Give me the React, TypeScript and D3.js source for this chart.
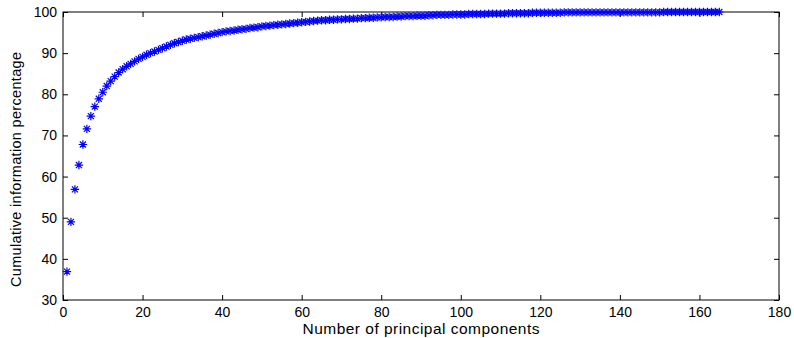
import React, { useEffect, useRef } from "react";
import * as d3 from "d3";

// cumulative information percentage for component 1..165
const cumulative: number[] = [
    36.9, 49.0, 56.9, 62.8, 67.8, 71.6, 74.7, 77.0, 78.9, 80.5,
    82.0, 83.2, 84.3, 85.3, 86.1, 86.8, 87.4, 88.0, 88.6, 89.1,
    89.6, 90.0, 90.4, 90.8, 91.2, 91.6, 92.0, 92.4, 92.7, 93.0,
    93.3, 93.5, 93.7, 93.9, 94.1, 94.3, 94.5, 94.7, 94.9, 95.1,
    95.3, 95.4, 95.5, 95.7, 95.8, 95.9, 96.1, 96.2, 96.3, 96.5,
    96.6, 96.7, 96.8, 96.9, 97.0, 97.1, 97.2, 97.3, 97.4, 97.5,
    97.6, 97.7, 97.8, 97.9, 98.0, 98.0, 98.1, 98.1, 98.2, 98.2,
    98.3, 98.3, 98.4, 98.4, 98.5, 98.5, 98.6, 98.6, 98.7, 98.7,
    98.8, 98.8, 98.8, 98.9, 98.9, 99.0, 99.0, 99.0, 99.1, 99.1,
    99.1, 99.2, 99.2, 99.3, 99.3, 99.3, 99.3, 99.4, 99.4, 99.4,
    99.4, 99.5, 99.5, 99.5, 99.5, 99.5, 99.6, 99.6, 99.6, 99.6,
    99.6, 99.7, 99.7, 99.7, 99.7, 99.7, 99.7, 99.8, 99.8, 99.8,
    99.8, 99.8, 99.8, 99.8, 99.8, 99.9, 99.9, 99.9, 99.9, 99.9,
    99.9, 99.9, 99.9, 99.9, 99.9, 99.9, 99.9, 99.9, 99.9, 99.9,
    99.9, 99.9, 99.9, 99.9, 99.9, 99.9, 99.9, 99.9, 99.9, 99.9,
    100.0, 100.0, 100.0, 100.0, 100.0, 100.0, 100.0, 100.0, 100.0, 100.0,
    100.0, 100.0, 100.0, 100.0, 100.0,
];

const xTicks = [0, 20, 40, 60, 80, 100, 120, 140, 160, 180];
const yTicks = [30, 40, 50, 60, 70, 80, 90, 100];

const App: React.FC = () => {
    const svgRef = useRef<SVGSVGElement | null>(null);

    useEffect(() => {
        document.body.style.margin = "0";

        const width = 794;
        const height = 338;
        const margin = { top: 12, right: 15, bottom: 38, left: 63 };
        const innerW = width - margin.left - margin.right;
        const innerH = height - margin.top - margin.bottom;

        d3.select(svgRef.current).selectAll("*").remove();

        const root = d3
            .select(svgRef.current)
            .attr("width", width)
            .attr("height", height)
            .style("display", "block")
            .style("font-family", "Liberation Sans, Arial, sans-serif");

        const svg = root
            .append("g")
            .attr("transform", `translate(${margin.left},${margin.top})`);

        const x = d3.scaleLinear().domain([0, 180]).range([0, innerW]);
        const y = d3.scaleLinear().domain([30, 100]).range([innerH, 0]);

        // box
        svg.append("rect")
            .attr("width", innerW)
            .attr("height", innerH)
            .attr("fill", "none")
            .attr("stroke", "#000")
            .attr("stroke-width", 1);

        // axes, ticks pointing inward
        const bottom = svg.append("g")
            .attr("transform", `translate(0,${innerH})`)
            .call(d3.axisBottom(x).tickValues(xTicks).tickSize(-5).tickPadding(7));
        const left = svg.append("g")
            .call(d3.axisLeft(y).tickValues(yTicks).tickSize(-5).tickPadding(6));
        svg.append("g")
            .call(d3.axisTop(x).tickValues(xTicks).tickSize(-5).tickFormat(() => ""));
        svg.append("g")
            .attr("transform", `translate(${innerW},0)`)
            .call(d3.axisRight(y).tickValues(yTicks).tickSize(-5).tickFormat(() => ""));

        svg.selectAll(".domain").remove();
        svg.selectAll(".tick line").attr("stroke", "#000");
        [bottom, left].forEach((g) =>
            g.selectAll("text").attr("font-size", 14).attr("fill", "#000")
        );

        // asterisk markers
        const r = 4.2;
        const d = r * 0.72;
        const star = `M${-r},0L${r},0M0,${-r}L0,${r}M${-d},${-d}L${d},${d}M${-d},${d}L${d},${-d}`;
        svg.append("g")
            .selectAll("path")
            .data(cumulative)
            .enter()
            .append("path")
            .attr("transform", (v, i) => `translate(${x(i + 1)},${y(v)})`)
            .attr("d", star)
            .attr("fill", "none")
            .attr("stroke", "#0000ff")
            .attr("stroke-width", 1.2);

        // axis labels
        root.append("text")
            .attr("x", margin.left + innerW / 2)
            .attr("y", 334)
            .attr("text-anchor", "middle")
            .attr("font-size", 15.5)
            .attr("textLength", 237)
            .text("Number of principal components");

        root.append("text")
            .attr("transform", `translate(21,169.5) rotate(-90)`)
            .attr("text-anchor", "middle")
            .attr("font-size", 14.5)
            .attr("textLength", 235)
            .text("Cumulative information percentage");
    }, []);

    return <svg ref={svgRef} />;
};

export default App;
